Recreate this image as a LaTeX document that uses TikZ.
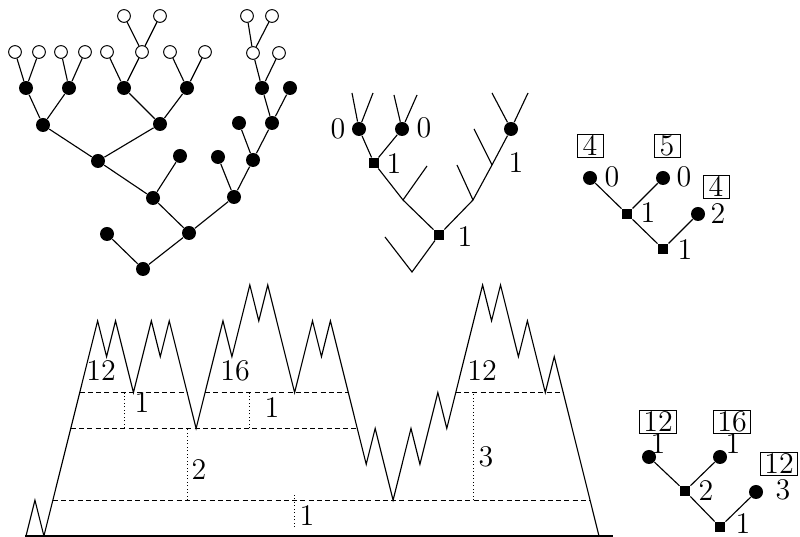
\documentclass[tikz,border=0pt]{standalone}
\begin{document}
\begin{tikzpicture}[x=0.4pt,y=-0.4pt,
  every node/.style={font=\fontsize{12}{14}\selectfont, inner sep=0pt},
  fc/.style={circle,fill=black,minimum size=5.6pt,inner sep=0pt},
  oc/.style={circle,draw=black,fill=white,minimum size=5.1pt,inner sep=0pt,line width=0.4pt},
  sq/.style={rectangle,fill=black,minimum size=4pt,inner sep=0pt},
  bx/.style={draw,line width=0.4pt,inner xsep=1.5pt,inner ysep=0.8pt,text height=7.8pt,text depth=0pt,minimum width=10.4pt},
  edge/.style={line width=0.45pt},
  lvl/.style={dash pattern=on 2pt off 1.3pt, line width=0.4pt},
  dot/.style={dash pattern=on 0.4pt off 1pt, line width=0.4pt}]
\useasboundingbox (0,0) rectangle (800,537);

% ---------- Tree 1 ----------
\node[fc] (r)  at (143,269) {};
\node[fc] (a1) at (107,234) {};
\node[fc] (a2) at (189,233) {};
\node[fc] (b1) at (153,198) {};
\node[fc] (b2) at (234,197) {};
\node[fc] (c1) at (98,161) {};
\node[fc] (c2) at (180,156) {};
\node[fc] (c3) at (218,157) {};
\node[fc] (c4) at (253,160) {};
\node[fc] (d1) at (43,125) {};
\node[fc] (d2) at (160,124) {};
\node[fc] (d3) at (239,123) {};
\node[fc] (d4) at (272,123) {};
\node[fc] (e1) at (26,88) {};
\node[fc] (e2) at (69,88) {};
\node[fc] (e3) at (124,88) {};
\node[fc] (e4) at (187,88) {};
\node[fc] (e5) at (262,88) {};
\node[fc] (e6) at (290,88) {};
\node[oc] (o1) at (15,52) {};
\node[oc] (o2) at (39,52) {};
\node[oc] (o3) at (61,52) {};
\node[oc] (o4) at (85,52) {};
\node[oc] (o5) at (107,52) {};
\node[oc] (o6) at (142,52) {};
\node[oc] (o7) at (170,52) {};
\node[oc] (o8) at (205,52) {};
\node[oc] (o9) at (253,53) {};
\node[oc] (o10) at (279,53) {};
\node[oc] (t1) at (124,16) {};
\node[oc] (t2) at (160,16) {};
\node[oc] (t3) at (247,16) {};
\node[oc] (t4) at (272,16) {};
\foreach \p/\c in {r/a1,r/a2,a2/b1,a2/b2,b1/c1,b1/c2,c1/d1,c1/d2,d1/e1,d1/e2,
  e1/o1,e1/o2,e2/o3,e2/o4,d2/e3,d2/e4,e3/o5,e3/o6,o6/t1,o6/t2,e4/o7,e4/o8,
  b2/c3,b2/c4,c4/d3,c4/d4,d4/e5,d4/e6,e5/o9,e5/o10,o9/t3,o9/t4}
  \draw[edge] (\p) -- (\c);

% ---------- Tree 2 ----------
\node[fc] (f1) at (359,129) {};
\node[fc] (f2) at (402,129) {};
\node[fc] (f3) at (511,129) {};
\node[sq] (s1) at (374,163) {};
\node[sq] (s2) at (439,235) {};
\coordinate (j1) at (403,200);
\coordinate (j2) at (473,200);
\coordinate (j3) at (492,165);
\coordinate (u1) at (352,93);
\coordinate (u2) at (373,93);
\coordinate (u3) at (394,95);
\coordinate (u4) at (417,95);
\coordinate (u5) at (492,93);
\coordinate (u6) at (528,93);
\coordinate (u7) at (427,166);
\coordinate (u8) at (412,272);
\coordinate (u9) at (385,237);
\coordinate (u10) at (457,165);
\coordinate (u11) at (474,129);
\draw[edge] (u1) -- (f1) -- (u2);
\draw[edge] (u3) -- (f2) -- (u4);
\draw[edge] (u5) -- (f3) -- (u6);
\draw[edge] (f1) -- (s1) -- (f2);
\draw[edge] (s1) -- (j1) -- (s2);
\draw[edge] (j1) -- (u7);
\draw[edge] (s2) -- (u8) -- (u9);
\draw[edge] (s2) -- (j2) -- (j3) -- (f3);
\draw[edge] (j2) -- (u10);
\draw[edge] (j3) -- (u11);
\node (l21) at (338,129) {0};
\node (l22) at (424,128) {0};
\node (l23) at (394,164) {1};
\node (l24) at (516,163) {1};
\node (l25) at (465,237) {1};

% ---------- Tree 3 ----------
\node[fc] (g1) at (590,178) {};
\node[fc] (g2) at (663,178) {};
\node[fc] (g3) at (698,214) {};
\node[sq] (q1) at (627,214) {};
\node[sq] (q2) at (663,249) {};
\draw[edge] (g1) -- (q1) -- (g2);
\draw[edge] (q1) -- (q2) -- (g3);
\node (l31) at (612,177) {0};
\node (l32) at (684,177) {0};
\node (l33) at (648,213) {1};
\node (l34) at (718,214) {2};
\node (l35) at (685,250) {1};
\node[bx] (b31) at (590,146) {4};
\node[bx] (b32) at (667,146) {5};
\node[bx] (b33) at (716,187) {4};

% ---------- Mountain ----------
\begin{scope}[shift={(10.4pt,-214.4pt)}, x=3.5812pt, y=14.344pt]
\draw[edge] (0,0) -- (1,1) -- (2,0) -- (8,6) -- (9,5) -- (10,6) -- (12,4) -- (14,6)
  -- (15,5) -- (16,6) -- (19,3) -- (22,6) -- (23,5) -- (25,7) -- (26,6) -- (27,7)
  -- (30,4) -- (32,6) -- (33,5) -- (34,6) -- (38,2) -- (39,3) -- (41,1) -- (43,3)
  -- (44,2) -- (46,4) -- (47,3) -- (51,7) -- (52,6) -- (53,7) -- (55,5) -- (56,6)
  -- (58,4) -- (59,5) -- (64,0);
\draw[edge] (-0.11,0) -- (65.56,0);
\draw[lvl] (6,4) -- (18,4);
\draw[lvl] (20,4) -- (36,4);
\draw[lvl] (48,4) -- (60,4);
\draw[lvl] (5,3) -- (37,3);
\draw[lvl] (3,1) -- (63,1);
\draw[dot] (11,3) -- (11,4);
\draw[dot] (25,3) -- (25,4);
\draw[dot] (18,1) -- (18,3);
\draw[dot] (30,0.25) -- (30,1.2);
\draw[dot] (50,1) -- (50,4);
\end{scope}
\node (m1) at (101,371) {12};
\node (m2) at (235,371) {16};
\node (m3) at (482,371) {12};
\node (m4) at (142,403) {1};
\node (m5) at (272,408) {1};
\node (m6) at (199,470) {2};
\node (m7) at (307,516) {1};
\node (m8) at (486,457) {3};

% ---------- Tree 4 ----------
\node[fc] (h1) at (649,457) {};
\node[fc] (h2) at (720,457) {};
\node[fc] (h3) at (756,492) {};
\node[sq] (p1) at (685,491) {};
\node[sq] (p2) at (720,527) {};
\draw[edge] (h1) -- (p1) -- (h2);
\draw[edge] (p1) -- (p2) -- (h3);
\node[bx] (b41) at (658,422) {12};
\node[bx] (b42) at (732,422) {16};
\node[bx] (b43) at (779,464) {12};
\node (l41) at (658,444) {1};
\node (l42) at (733,444) {1};
\node (l43) at (706,491) {2};
\node (l44) at (783,490) {3};
\node (l45) at (743,524) {1};
\end{tikzpicture}
\end{document}
